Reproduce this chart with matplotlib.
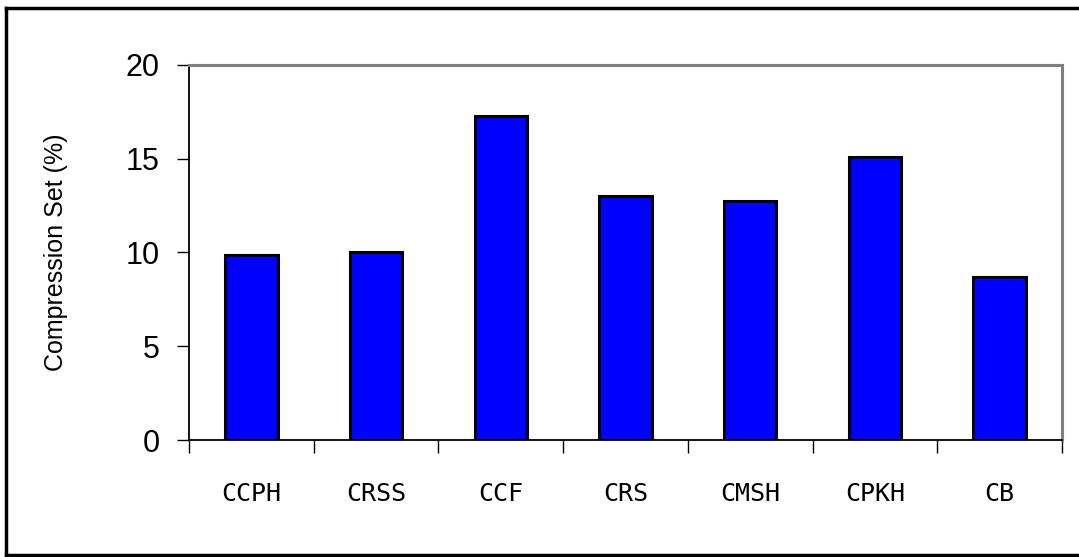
import matplotlib
matplotlib.use("Agg")
import matplotlib.pyplot as plt
import numpy as np
from matplotlib.lines import Line2D

categories = ["CCPH", "CRSS", "CCF", "CRS", "CMSH", "CPKH", "CB"]
values = [9.87, 10.0, 17.28, 13.03, 12.75, 15.08, 8.7]
yticks = [0, 5, 10, 15, 20]

plt.rcParams['font.family'] = ['Liberation Sans', 'DejaVu Sans']

fig = plt.figure(figsize=(10.79, 5.57), dpi=100)
ax = fig.add_axes([189/1079, 117/557, (1062-189)/1079, (440-65)/557])

x = np.arange(len(categories))
ax.bar(x, values, width=0.42, color="#0000FF", edgecolor="black", linewidth=2.2, zorder=3)

ax.set_xlim(-0.5, len(categories) - 0.5)
ax.set_ylim(0, 20)
ax.set_yticks(yticks)
ax.set_yticklabels([str(t) for t in yticks], fontsize=22)
ax.tick_params(axis='y', direction='out', length=9, width=1, pad=12, colors='black')

ax.set_xticks(x)
ax.set_xticklabels(categories, fontsize=18)
ax.tick_params(axis='x', which='major', length=0, pad=30)
ax.set_xticks(np.arange(-0.5, len(categories)), minor=True)
ax.tick_params(axis='x', which='minor', direction='out', length=9, width=1, color='black')

for lbl in ax.get_xticklabels():
    lbl.set_fontfamily(['DejaVu Sans Mono', 'Liberation Mono'])

ax.spines['left'].set_color('black')
ax.spines['left'].set_linewidth(1.3)
ax.spines['bottom'].set_color('black')
ax.spines['bottom'].set_linewidth(1.3)
ax.spines['top'].set_color('#808080')
ax.spines['top'].set_linewidth(2.2)
ax.spines['right'].set_color('#808080')
ax.spines['right'].set_linewidth(2.2)

ax.set_ylabel("Compression Set (%)", fontsize=18,
              family=['Liberation Sans Narrow', 'Liberation Sans', 'DejaVu Sans'])
ax.yaxis.set_label_coords(-121/873, 0.5)

# outer frame (right edge lies beyond the image)
fig.add_artist(Line2D([6/1079, 6/1079], [2/557, 549/557], color='black', lw=2.5, transform=fig.transFigure))
fig.add_artist(Line2D([6/1079, 1.01], [549/557, 549/557], color='black', lw=2.5, transform=fig.transFigure))
fig.add_artist(Line2D([6/1079, 1.01], [2/557, 2/557], color='black', lw=2.5, transform=fig.transFigure))

fig.savefig("out.png", dpi=100)
